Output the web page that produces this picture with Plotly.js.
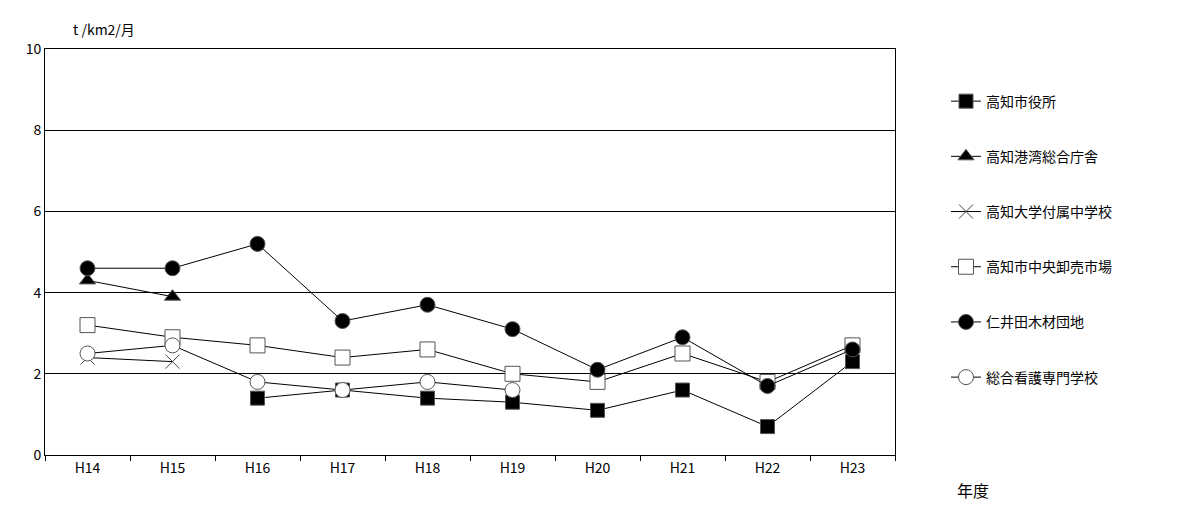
<!DOCTYPE html>
<html><head><meta charset="utf-8">
<script src="https://cdn.plot.ly/plotly-3.0.1.min.js"></script>
<style>body{margin:0;background:#fff}#c{width:1185px;height:505px}</style>
</head><body><div id="c"></div>
<script>
const years = ["H14","H15","H16","H17","H18","H19","H20","H21","H22","H23"];
const shiyakusho = [null,null,1.4,1.6,1.4,1.3,1.1,1.6,0.7,2.3];
const kowan = [4.3,3.9,null,null,null,null,null,null,null,null];
const fuzoku = [2.4,2.3,null,null,null,null,null,null,null,null];
const oroshi = [3.2,2.9,2.7,2.4,2.6,2.0,1.8,2.5,1.8,2.7];
const niida = [4.6,4.6,5.2,3.3,3.7,3.1,2.1,2.9,1.7,2.6];
const kango = [2.5,2.7,1.8,1.6,1.8,1.6,null,null,null,null];

const line = {color:"#000", width:1};
function tr(name, y, symbol, size, fill) {
  return {x: years, y: y, name: name, legendgroup: name, type: "scatter", mode: "lines+markers",
    line: line, marker: {symbol: symbol, size: size, color: fill,
      line: {color: symbol.includes("x") ? "#444" : "#555", width: 1}}};
}
const data = [
  tr("高知市役所", shiyakusho, "square", 14, "#000"),
  tr("高知港湾総合庁舎", kowan, "triangle-up", 14, "#000"),
  tr("高知大学付属中学校", fuzoku, "x-thin-open", 14, "#444"),
  tr("高知市中央卸売市場", oroshi, "square", 15, "#fff"),
  tr("仁井田木材団地", niida, "circle", 15, "#000"),
  tr("総合看護専門学校", kango, "circle", 15, "#fff")
];
const font = {family: "Noto Sans CJK JP, sans-serif", size: 14, color: "#000"};
Plotly.newPlot("c", data, {
  width: 1185, height: 505, font: font,
  margin: {l: 45, r: 290, t: 49, b: 50},
  paper_bgcolor: "#fff", plot_bgcolor: "#fff", showlegend: true,
  legend: {x: 1.06, y: 0.91, yanchor: "top", tracegroupgap: 34, itemwidth: 30,
    font: {family: font.family, size: 14}, traceorder: "grouped"},
  xaxis: {type: "category", range: [-0.5, 9.5], showline: true, linecolor: "#000", mirror: true,
    ticks: "outside", ticklen: 5, tickcolor: "#000", showgrid: false, zeroline: false,
    tickson: "boundaries"},
  yaxis: {range: [0, 10], dtick: 2, showline: true, linecolor: "#000", mirror: true,
    gridcolor: "#000", gridwidth: 1, zeroline: false, ticks: "", ticklen: 0},
  annotations: [
    {text: "t /km2/月", xref: "paper", yref: "paper", x: 0.03, y: 1.08, xanchor: "left", showarrow: false, font: {size: 14}},
    {text: "年度", xref: "paper", yref: "paper", x: 1.07, y: -0.12, xanchor: "left", showarrow: false, font: {size: 16}}
  ]
}, {displayModeBar: false});
</script></body></html>
